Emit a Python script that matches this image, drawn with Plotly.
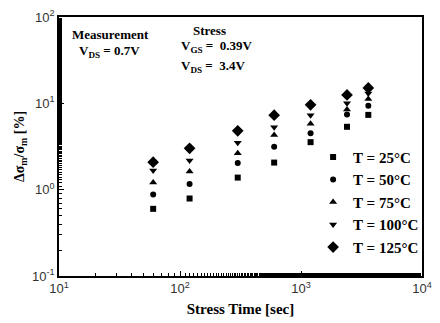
import plotly.graph_objects as go

stress_time = [60, 120, 300, 600, 1200, 2400, 3600]
t25 = [0.60, 0.79, 1.38, 2.06, 3.55, 5.35, 7.35]
t50 = [0.88, 1.16, 2.03, 3.15, 4.5, 7.4, 9.4]
t75 = [1.21, 1.62, 2.64, 4.3, 5.8, 8.5, 11.2]
t100 = [1.67, 2.17, 3.5, 5.3, 7.3, 10.0, 13.0]
t125 = [2.08, 3.01, 4.8, 7.3, 9.6, 12.5, 15.1]

series = [
    ("T = 25°C", t25, "square", 6),
    ("T = 50°C", t50, "circle", 6),
    ("T = 75°C", t75, "triangle-up", 7),
    ("T = 100°C", t100, "triangle-down", 7),
    ("T = 125°C", t125, "diamond", 9),
]

fig = go.Figure()
for name, ys, sym, sz in series:
    fig.add_trace(go.Scatter(x=stress_time, y=ys, mode="markers", name="<b>" + name + "</b>",
                             marker=dict(symbol=sym, size=sz, color="black")))

serif = "Liberation Serif"
sans = "Liberation Sans"

axis_common = dict(type="log", showline=True, linecolor="black", linewidth=1.5,
                   mirror=True, ticks="inside", ticklen=5, tickcolor="black",
                   showgrid=False, zeroline=False,
                   tickfont=dict(family=sans, size=13, color="#333"),
                   minor=dict(ticks="inside", ticklen=3, tickcolor="black", showgrid=False))

fig.update_xaxes(range=[1, 4], tickvals=[10, 100, 1000, 10000],
                 ticktext=["10<sup>1</sup>", "10<sup>2</sup>", "10<sup>3</sup>", "10<sup>4</sup>"],
                 title=dict(text="<b>Stress Time [sec]</b>", font=dict(family=serif, size=15, color="black"), standoff=8),
                 **axis_common)
fig.update_yaxes(range=[-1, 2], tickvals=[0.1, 1, 10, 100],
                 ticktext=["10<sup>-1</sup>", "10<sup>0</sup>", "10<sup>1</sup>", "10<sup>2</sup>"],
                 title=dict(text="<b>Δσ<sub>m</sub>/σ<sub>m</sub> [%]</b>", font=dict(family=serif, size=14, color="black"), standoff=4),
                 **axis_common)

ann_font = dict(family=serif, size=13, color="black")
annotations = [
    dict(x=0.03, y=0.931, text="<b>Measurement</b>"),
    dict(x=0.05, y=0.868, text="<b>V<sub>DS</sub> = 0.7V</b>"),
    dict(x=0.365, y=0.948, text="<b>Stress</b>"),
    dict(x=0.33, y=0.888, text="<b>V<sub>GS</sub> =  0.39V</b>"),
    dict(x=0.33, y=0.81, text="<b>V<sub>DS</sub> =  3.4V</b>"),
]
for a in annotations:
    fig.add_annotation(xref="paper", yref="paper", xanchor="left", yanchor="middle",
                       showarrow=False, font=ann_font, **a)

fig.update_layout(
    width=440, height=323,
    margin=dict(l=59, r=8, t=16, b=46),
    paper_bgcolor="white", plot_bgcolor="white",
    showlegend=True,
    legend=dict(x=0.70, y=0.522, xanchor="left", yanchor="top",
                font=dict(family=serif, size=15, color="black"),
                bgcolor="rgba(0,0,0,0)", itemwidth=30, tracegroupgap=0),
)

fig.write_html("out.html")
